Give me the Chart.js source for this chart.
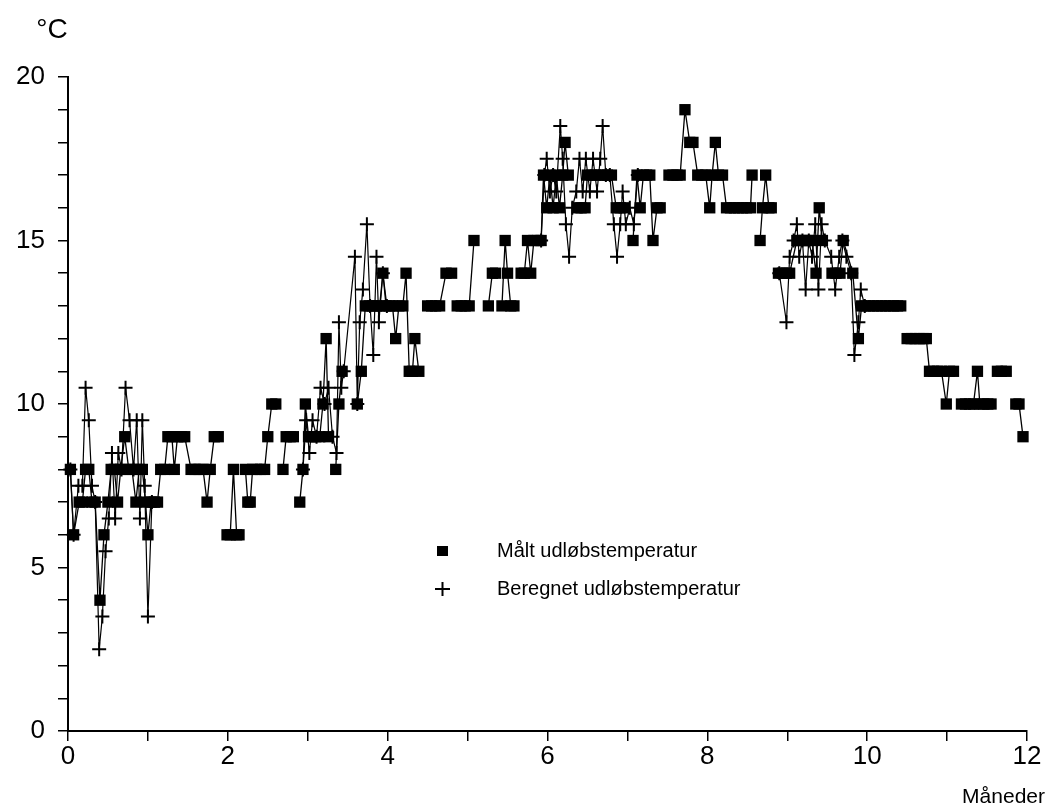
<!DOCTYPE html>
<html>
<head>
<meta charset="utf-8">
<script src="https://cdn.jsdelivr.net/npm/chart.js@4.4.0/dist/chart.umd.min.js"></script>
<style>
  html, body { margin: 0; padding: 0; background: #fff; }
  #wrap { width: 1049px; height: 812px; }
</style>
</head>
<body>
<div id="wrap"><canvas id="chart"></canvas></div>
<script>
'use strict';

// målt udløbstemperatur (null = no reading that day)
const measuredMonths = [
  0.03, 0.07, 0.14, 0.18, 0.22, 0.26, 0.30, 0.34, 0.40, 0.45,
  0.50, 0.54, 0.58, 0.62, 0.66, 0.71, 0.76, 0.80, 0.85, 0.89,
  0.93, 0.97, 1.00, 1.04, 1.08, 1.12, 1.16, 1.21, 1.25, 1.30,
  1.33, 1.37, 1.42, 1.46, 1.54, 1.59, 1.64, 1.69, 1.74, 1.78,
  1.83, 1.88, 1.93, 1.99, 2.03, 2.07, 2.11, 2.14, 2.18, 2.22,
  2.25, 2.28, 2.31, 2.36, 2.41, 2.46, 2.50, 2.55, 2.60, 2.64,
  2.69, 2.73, 2.78, 2.82, 2.86, 2.90, 2.94, 2.97, 3.01, 3.05,
  3.10, 3.15, 3.19, 3.23, 3.26, 3.30, 3.35, 3.39, 3.43, 3.52,
  3.62, 3.67, 3.72, 3.77, 3.81, 3.86, 3.90, 3.94, 3.98, 4.02,
  4.06, 4.10, 4.14, 4.19, 4.23, 4.27, 4.31, 4.34, 4.39, 4.44,
  4.50, 4.55, 4.60, 4.65, 4.73, 4.80, 4.84, 4.87, 4.92, 4.97,
  5.02, 5.08, 5.16, 5.26, 5.31, 5.35, 5.39, 5.43, 5.47, 5.50,
  5.54, 5.58, 5.62, 5.67, 5.71, 5.75, 5.79, 5.83, 5.88, 5.92,
  5.95, 5.99, 6.03, 6.07, 6.11, 6.15, 6.19, 6.22, 6.26, 6.32,
  6.37, 6.42, 6.47, 6.50, 6.55, 6.60, 6.65, 6.70, 6.75, 6.80,
  6.86, 6.91, 6.96, 7.02, 7.07, 7.12, 7.16, 7.20, 7.24, 7.28,
  7.32, 7.37, 7.41, 7.46, 7.52, 7.57, 7.62, 7.66, 7.72, 7.78,
  7.82, 7.88, 7.93, 7.98, 8.03, 8.06, 8.10, 8.14, 8.19, 8.24,
  8.29, 8.34, 8.39, 8.44, 8.49, 8.54, 8.56, 8.61, 8.66, 8.69,
  8.73, 8.77, 8.80, 8.85, 8.89, 8.94, 8.99, 9.03, 9.12, 9.17,
  9.22, 9.26, 9.31, 9.36, 9.40, 9.44, 9.50, 9.56, 9.61, 9.66,
  9.70, 9.82, 9.89, 9.93, 9.98, 10.03, 10.08, 10.13, 10.18, 10.23,
  10.28, 10.33, 10.38, 10.42, 10.46, 10.50, 10.55, 10.60, 10.65, 10.70,
  10.74, 10.78, 10.83, 10.88, 10.93, 10.99, 11.03, 11.08, 11.13, 11.18,
  11.23, 11.28, 11.33, 11.38, 11.41, 11.46, 11.51, 11.55, 11.58, 11.63,
  11.68, 11.74, 11.80, 11.86, 11.90, 11.95
];
const measuredTemps = [
  8, 6, 7, 7, 8, 8, 7, 7, 4, 6,
  7, 8, 8, 7, 8, 9, 8, 8, 7, 8,
  8, 7, 6, 7, 7, 7, 8, 8, 9, 9,
  8, 9, 9, 9, 8, 8, 8, 8, 7, 8,
  9, 9, null, 6, 6, 8, 6, 6, null, 8,
  7, 7, 8, 8, 8, 8, 9, 10, 10, null,
  8, 9, 9, 9, null, 7, 8, 10, 9, 9,
  9, 9, 10, 12, 9, null, 8, 10, 11, null,
  10, 11, 13, 13, 13, 13, 13, 14, 13, 13,
  13, 12, 13, 13, 14, 11, 11, 12, 11, null,
  13, 13, 13, 13, 14, 14, null, 13, 13, 13,
  13, 15, null, 13, 14, 14, null, 13, 15, 14,
  13, 13, null, 14, 14, 15, 14, 15, 15, 15,
  17, 16, 17, 16, 17, 16, 17, 18, 17, null,
  16, 16, 16, 17, 17, 17, 17, 17, 17, 17,
  16, 16, 16, null, 15, 17, 16, 17, 17, 17,
  15, 16, 16, null, 17, 17, 17, 17, 19, 18,
  18, 17, 17, 17, 16, 17, 18, 17, 17, 16,
  16, 16, 16, 16, 16, 16, 17, null, 15, 16,
  17, 16, 16, null, 14, 14, 14, 14, 15, 15,
  15, 15, 15, 14, 16, 15, null, 14, 14, 14,
  15, 14, 12, 13, 13, 13, 13, 13, 13, 13,
  13, 13, 13, 13, null, 12, 12, 12, 12, 12,
  12, 11, 11, 11, 11, 10, 11, 11, null, 10,
  10, 10, 10, 11, 10, 10, 10, 10, null, 11,
  11, 11, null, 10, 10, 9
];

// beregnet udløbstemperatur (only where it differs visibly)
const calcMonths = [
  0.03, 0.07, 0.13, 0.18, 0.22, 0.26, 0.30, 0.34, 0.39, 0.43,
  0.47, 0.51, 0.55, 0.59, 0.63, 0.67, 0.72, 0.77, 0.82, 0.86,
  0.90, 0.93, 0.96, 1.00, 1.05, 1.10, 2.94, 2.98, 3.02, 3.06,
  3.11, 3.16, 3.21, 3.26, 3.31, 3.36, 3.39, 3.42, 3.45, 3.59,
  3.62, 3.65, 3.69, 3.74, 3.78, 3.82, 3.86, 3.89, 3.94, 3.99,
  4.05, 5.92, 5.96, 5.99, 6.03, 6.07, 6.11, 6.16, 6.19, 6.23,
  6.27, 6.31, 6.36, 6.40, 6.44, 6.48, 6.53, 6.57, 6.62, 6.66,
  6.69, 6.73, 6.78, 6.83, 6.87, 6.91, 6.94, 6.98, 7.03, 7.08,
  7.13, 7.20, 8.90, 8.99, 9.03, 9.08, 9.12, 9.15, 9.19, 9.23,
  9.27, 9.31, 9.35, 9.39, 9.43, 9.47, 9.55, 9.60, 9.65, 9.69,
  9.74, 9.80, 9.84, 9.89, 9.92, 9.97
];
const calcTemps = [
  8, 6, 7.5, 7.5, 10.5, 9.5, 7.5, 7, 2.5, 3.5,
  5.5, 6.5, 8.5, 6.5, 8.5, 8, 10.5, 9.5, 8, 9.5,
  6.5, 9.5, 7.5, 3.5, 7, null, 8, 9.5, 8.5, 9.5,
  9, 10.5, 10, 10.5, 9, 8.5, 12.5, 10.5, 11, 14.5,
  10, 12.5, 13.5, 15.5, 13, 11.5, 14.5, 12.5, 14, 13,
  null, 15, 17, 17.5, 16.5, 17, 16.5, 18.5, 17.5, 15.5,
  14.5, 16, 16.5, 17.5, 16.5, 17.5, 16.5, 17.5, 16.5, 17.5,
  18.5, 17, 17, 15.5, 14.5, 15.5, 16.5, 15.5, 16, 15.5,
  17, null, 14, 12.5, 14.5, 15, 15.5, 14.5, 15, 13.5,
  15, 14.5, 15.5, 13.5, 15.5, 15, 14.5, 13.5, 14.5, 15,
  14.5, 14, 11.5, 12.5, 13.5, 13
];

const xTicksLabelled = [0, 2, 4, 6, 8, 10, 12];
const yTicksLabelled = [0, 5, 10, 15, 20];

const legendLabels = ['Målt udløbstemperatur', 'Beregnet udløbstemperatur'];

function toPoints(months, temps) {
  let pts = [];
  for (let i = 0; i < months.length; i++) {
    pts.push({ x: months[i], y: temps[i] });
  }
  return pts;
}

const fontName = '"Liberation Sans", Arial, sans-serif';

// °C, Måneder and the legend inside the plot
const extraText = {
  id: 'extraText',
  afterDraw(chart) {
    const c = chart.ctx;
    c.save();
    c.fillStyle = '#000';
    c.strokeStyle = '#000';

    c.font = '28px ' + fontName;
    c.textAlign = 'center';
    c.textBaseline = 'middle';
    c.fillText('°C', 52, 30);

    c.font = '21px ' + fontName;
    c.textAlign = 'right';
    c.fillText('Måneder', 1045, 797);

    // legend
    c.textAlign = 'left';
    c.font = '20px ' + fontName;
    c.fillRect(437, 546, 11, 10);
    c.fillText(legendLabels[0], 497, 551);

    c.lineWidth = 2;
    c.beginPath();
    c.moveTo(435, 589); c.lineTo(450, 589);
    c.moveTo(442.5, 582); c.lineTo(442.5, 596);
    c.stroke();
    c.fillText(legendLabels[1], 497, 589);
    c.restore();
  }
};

const ctx = document.getElementById('chart');

new Chart(ctx, {
  type: 'line',
  data: {
    datasets: [
      {
        label: legendLabels[0],
        data: toPoints(measuredMonths, measuredTemps),
        borderColor: '#000',
        borderWidth: 1.3,
        backgroundColor: '#000',
        pointStyle: 'rect',
        pointRadius: 8,
        pointBorderWidth: 0,
        pointBackgroundColor: '#000',
        spanGaps: false,
        tension: 0,
        clip: false,
        order: 0
      },
      {
        label: legendLabels[1],
        data: toPoints(calcMonths, calcTemps),
        borderColor: '#000',
        borderWidth: 1.2,
        pointStyle: 'cross',
        pointRadius: 7,
        pointBorderWidth: 2,
        pointBorderColor: '#000',
        spanGaps: false,
        tension: 0,
        clip: false,
        order: 1
      }
    ]
  },
  options: {
    responsive: true,
    maintainAspectRatio: false,
    animation: false,
    events: [],
    layout: { padding: { left: 0, right: 22, top: 77, bottom: 0 } },
    plugins: {
      legend: { display: false },
      tooltip: { enabled: false }
    },
    scales: {
      x: {
        type: 'linear',
        min: 0,
        max: 12,
        afterFit(scale) { scale.height = 81; },
        border: { display: true, color: '#000', width: 2 },
        grid: { drawOnChartArea: false, drawTicks: true, tickLength: 10, color: '#000', lineWidth: 1.5 },
        ticks: {
          stepSize: 1,
          autoSkip: false,
          maxRotation: 0,
          padding: 0,
          color: '#000',
          font: { family: fontName, size: 26 },
          callback: (v) => xTicksLabelled.includes(v) ? String(v) : ''
        }
      },
      y: {
        min: 0,
        max: 20,
        afterFit(scale) { scale.width = 68; },
        border: { display: true, color: '#000', width: 2 },
        grid: { drawOnChartArea: false, drawTicks: true, tickLength: 10, color: '#000', lineWidth: 1.5 },
        ticks: {
          stepSize: 1,
          autoSkip: false,
          padding: 13,
          color: '#000',
          font: { family: fontName, size: 26 },
          callback: (v) => yTicksLabelled.includes(v) ? String(v) : ''
        }
      }
    }
  },
  plugins: [extraText]
});
</script>
</body>
</html>
